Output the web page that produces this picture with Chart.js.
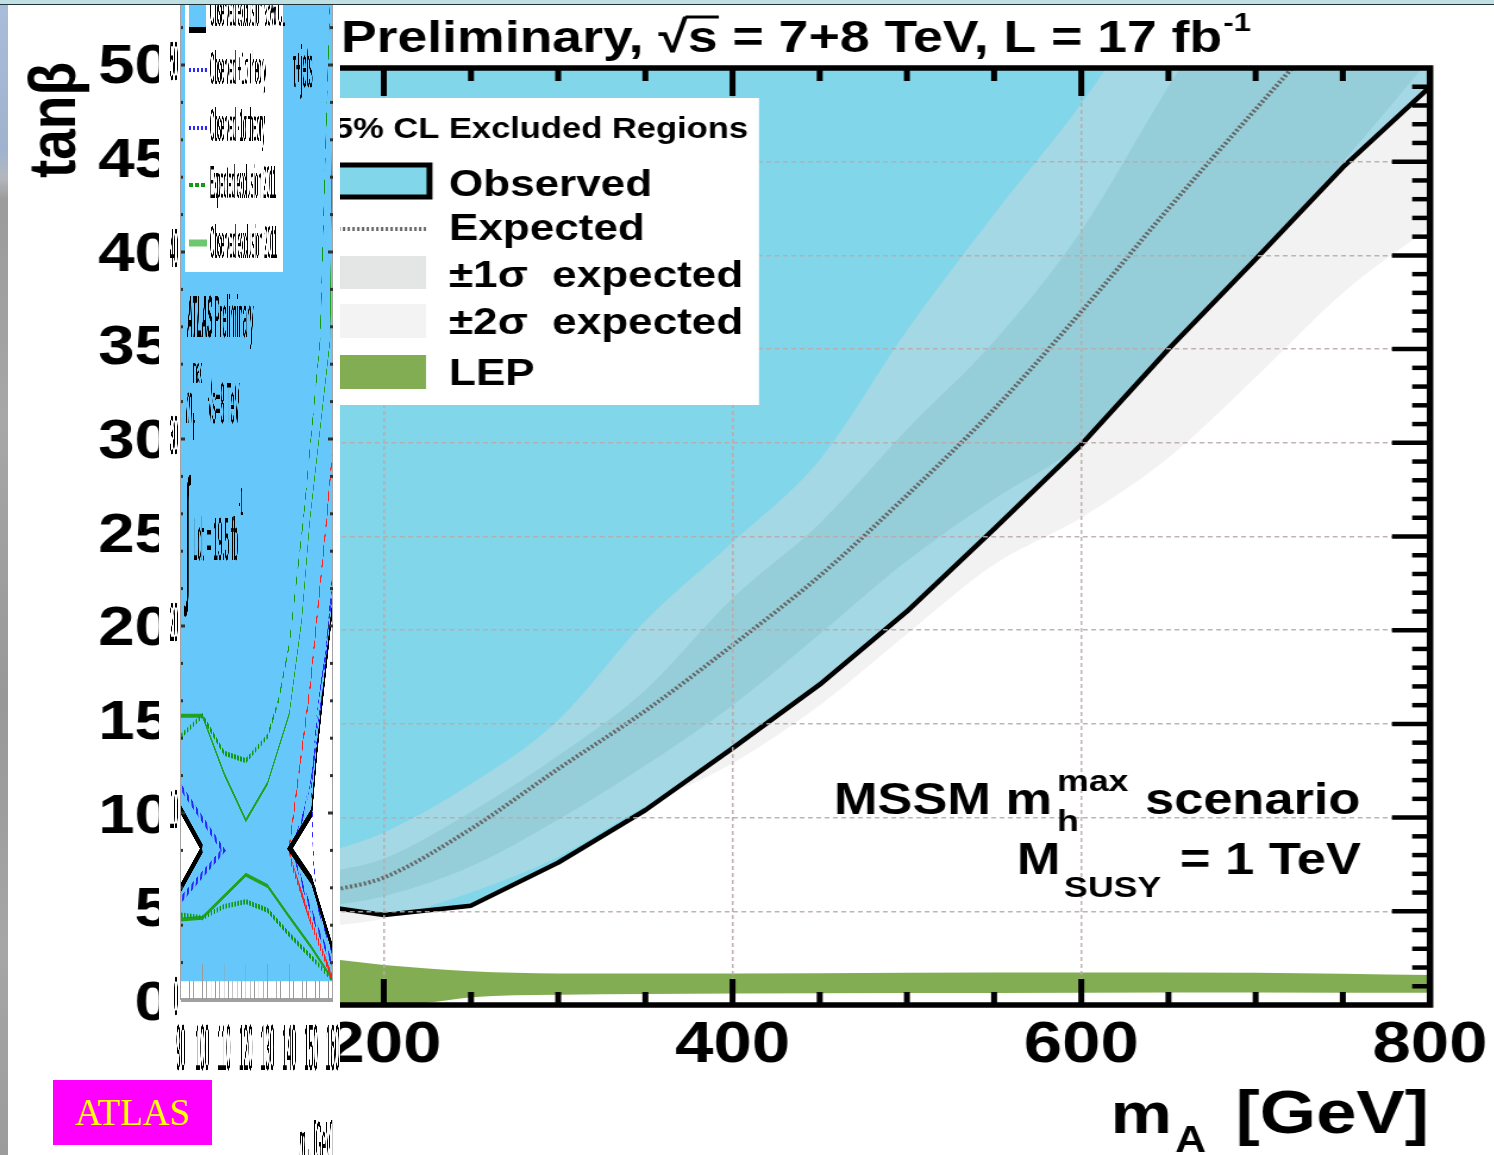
<!DOCTYPE html>
<html lang="en">
<head>
<meta charset="utf-8">
<title>MSSM tanβ exclusion, m_A</title>
<script src="https://cdn.jsdelivr.net/npm/chart.js@4.4.1/dist/chart.umd.min.js"></script>
<style>
  html, body { margin: 0; padding: 0; background: #fff; }
  body { position: relative; width: 1494px; height: 1155px; overflow: hidden; }
  #cms { position: absolute; left: 0; top: 0; width: 1256px; height: 1155px; transform-origin: 0 0; transform: scaleX(1.19); }
  #inset { position: absolute; left: 159px; top: 0; width: 181px; height: 1155px; overflow: hidden; background: #fff; }
  #atlas { position: absolute; left: 0; top: 0; width: 1392px; height: 1155px; transform-origin: 0 0; transform: scaleX(0.13); }
  #edge { position: absolute; left: 0; top: 0; width: 8px; height: 1155px;
          background: linear-gradient(180deg, #a9bcd9 0px, #9fb3cf 150px, #b3b7bc 178px, #9b9b9b 200px, #a7a7a7 420px, #989898 700px, #a6a6a6 950px, #9c9c9c 1155px); }
  #band { position: absolute; left: 0; top: 0; width: 1494px; height: 3.5px; background: #c0e1e4; border-bottom: 1.5px solid #24323a; }
  #tag { position: absolute; left: 53px; top: 1080px; width: 159px; height: 65px; background: #ff00ff; color: #ffff00;
         font: 37px/65px "Liberation Serif", "Times New Roman", serif; text-align: center; }
</style>
</head>
<body>
<canvas id="cms" width="1256" height="1155"></canvas>
<div id="inset"><canvas id="atlas" width="1392" height="1155"></canvas></div>
<div id="edge"></div>
<div id="band"></div>
<div id="tag">ATLAS</div>
<script>
// ---------------- CMS: MSSM neutral Higgs -> tau tau, mh-max, 7+8 TeV ----------------
const mA         = [170, 200, 250, 300, 350, 400, 450, 500, 550, 600, 650, 700, 750, 800];
const observed   = [5.2, 4.8, 5.3, 7.6, 10.4, 13.7, 17.1, 21.0, 25.4, 29.9, 35.0, 39.8, 44.7, 49.0];
const expected   = [6.1, 6.8, 9.4, 12.6, 15.7, 19.2, 22.9, 27.2, 31.8, 37.0, 42.5, 47.8, 53.0, 58.0];
const sigma1Up   = [7.1, 7.8, 10.3, 13.3, 16.8, 21.7, 25.7, 30.7, 35.4, 41.3, 49.0, 56.0, 62.0, 68.0];
const sigma1Down = [5.3, 5.8, 7.4, 9.9, 12.8, 16.0, 19.8, 23.7, 27.0, 30.0, 35.1, 39.9, 45.0, 50.5];
const sigma2Up   = [8.2, 9.2, 11.8, 15.2, 20.5, 24.7, 29.1, 36.0, 42.2, 48.1, 55.0, 62.0, 69.0, 76.0];
const sigma2Down = [4.2, 4.6, 6.0, 7.9, 10.6, 12.9, 16.0, 19.8, 23.5, 26.0, 29.2, 33.5, 38.0, 41.5];

const lepMass  = [170, 200, 225, 250, 300, 400, 500, 600, 700, 800];
const lepUpper = [2.45, 2.13, 1.95, 1.8, 1.68, 1.68, 1.72, 1.74, 1.72, 1.6];
const lepLower = [0, 0, 0.12, 0.42, 0.55, 0.62, 0.64, 0.66, 0.67, 0.65];

const massTicks = [200, 400, 600, 800];
const tanbTicks = [0, 5, 10, 15, 20, 25, 30, 35, 40, 45, 50];

// ---------------- ATLAS: charged Higgs -> tau nu, mh-max, 8 TeV ----------------
const hpTicks     = [90, 100, 110, 120, 130, 140, 150, 160];
const hpTanbTicks = [0, 10, 20, 30, 40, 50];

const holeLeftMass    = [90, 100];
const holeLeftTop     = [10.2, 8.1];
const holeLeftBottom  = [6.0, 8.1];
const holeRightMass   = [140.3, 150.3, 152.6, 160];
const holeRightTop    = [8.1, 10.0, 13.2, 21.2];
const holeRightBottom = [8.1, 6.4, 5.5, 2.7];

const thLeftMass   = [90, 109.6, 90];
const thLeftTanb   = [11.4, 8.0, 5.35];
const thRightAMass = [160, 155.8, 151.0, 146.8, 141.4, 146.5, 153.0, 160];
const thRightATanb = [22.8, 17.0, 12.5, 10.0, 8.1, 6.0, 3.8, 1.9];
const thRightBMass = [160, 152.6, 150.3, 151.0, 152.6, 160];
const thRightBTanb = [21.75, 15.0, 11.4, 7.85, 5.2, 2.5];

const expMass = [160, 157.2, 149.6, 142.6, 139.9, 141.1, 149.6, 160];
const expTanb = [29.5, 25.7, 16.75, 10.5, 8.1, 7.3, 4.3, 1.1];

const exp2011UpMass  = [90, 100, 110, 120, 130, 135, 140, 146.5, 154.2, 157.2, 158.8];
const exp2011UpTanb  = [14.1, 15.2, 13.2, 12.8, 14.1, 16.0, 19.0, 25.7, 35.3, 47.6, 53.5];
const exp2011LoMass  = [90, 100, 110, 120, 130, 140, 150, 160];
const exp2011LoTanb  = [4.55, 4.4, 5.0, 5.26, 4.8, 3.5, 2.3, 1.07];
const obs2011UpMass  = [90, 100, 110, 120, 130, 140, 145.7, 149.5, 158.8, 160];
const obs2011UpTanb  = [15.2, 15.2, 12.1, 9.6, 11.6, 15.3, 20.3, 25.7, 35.3, 50.0];
const obs2011LoMass  = [90, 100, 120, 130, 140, 150, 160];
const obs2011LoTanb  = [4.3, 4.4, 6.7, 6.1, 4.45, 2.85, 1.07];

// ---------------- helpers ----------------
const FONT = '"Liberation Sans", Arial, Helvetica, sans-serif';
const S  = 1.19;                 // horizontal stretch of the CMS canvas
const SX = 0.13;                 // horizontal squeeze of the ATLAS canvas
const cx = p => p / S;           // page x -> CMS canvas x
const ax = p => (p - 159) / SX;  // page x -> ATLAS canvas x
const pts = (xs, ys) => xs.map((x, i) => ({ x, y: ys[i] }));
const outline = (xs, top, bottom) => pts(xs, top).reverse().concat(pts(xs, bottom));
function seg(ctx, x1, y1, x2, y2) { ctx.beginPath(); ctx.moveTo(x1, y1); ctx.lineTo(x2, y2); ctx.stroke(); }

const obsBlue  = '#82d6ea';
const lepGreen = '#82ad52';
const gridCol  = 'rgba(185,170,170,0.9)';
const edge = { borderColor: 'rgba(0,0,0,0)', borderWidth: 0, fill: false };
const smooth = { cubicInterpolationMode: 'monotone' };

// ---------------- CMS decorations: frame, ticks, legend, labels ----------------
const cmsDecor = {
  id: 'cmsDecor',
  afterDraw(chart) {
    const { ctx, chartArea: a } = chart;
    const x = chart.scales.x, y = chart.scales.y;
    ctx.save();
    ctx.strokeStyle = '#000';
    ctx.lineCap = 'butt';
    ctx.lineWidth = 5;
    for (let v = 100; v < 800; v += 50) {
      const px = x.getPixelForValue(v);
      const major = v % 200 === 0;
      seg(ctx, px, a.bottom, px, a.bottom - (major ? 26 : 13));
      seg(ctx, px, a.top, px, a.top + (major ? 28 : 13));
    }
    ctx.lineWidth = 4.5;
    for (let v = 1; v < 50; v++) {
      const py = y.getPixelForValue(v);
      seg(ctx, a.right, py, a.right - (v % 5 === 0 ? 32 : 15), py);
    }
    ctx.lineWidth = 5.5;
    ctx.strokeRect(a.left, a.top, a.right - a.left, a.bottom - a.top);

    // legend
    ctx.fillStyle = '#fff';
    ctx.fillRect(cx(200), 98, cx(759) - cx(200), 307);
    ctx.fillStyle = '#000';
    ctx.textBaseline = 'alphabetic';
    ctx.textAlign = 'right';
    ctx.font = `bold 29px ${FONT}`;
    ctx.fillText('95% CL Excluded Regions', cx(748), 138);
    const sx0 = cx(300), sx1 = cx(426);
    ctx.fillStyle = obsBlue;
    ctx.fillRect(sx0, 165, cx(429.5) - sx0, 32);
    ctx.lineWidth = 5; ctx.strokeStyle = '#000';
    ctx.strokeRect(sx0, 165, cx(429.5) - sx0, 32);
    ctx.strokeStyle = '#666'; ctx.lineWidth = 4; ctx.setLineDash([2, 2]);
    seg(ctx, sx0, 229, sx1, 229);
    ctx.setLineDash([]);
    ctx.fillStyle = '#e4e6e6'; ctx.fillRect(sx0, 256, sx1 - sx0, 33);
    ctx.fillStyle = '#f2f3f2'; ctx.fillRect(sx0, 304, sx1 - sx0, 34);
    ctx.fillStyle = lepGreen;  ctx.fillRect(sx0, 355, sx1 - sx0, 34);
    ctx.fillStyle = '#000'; ctx.textAlign = 'left';
    ctx.font = `bold 37px ${FONT}`;
    const lx = cx(449);
    ctx.fillText('Observed', lx, 196);
    ctx.fillText('Expected', lx, 240);
    ctx.fillText('±1σ  expected', lx, 287);
    ctx.fillText('±2σ  expected', lx, 334);
    ctx.fillText('LEP', lx, 385);

    // title
    ctx.font = `bold 45px ${FONT}`;
    let tx = cx(341);
    const cmsW = ctx.measureText('CMS ').width;
    ctx.fillText('CMS ', tx - cmsW, 52);
    ctx.fillText('Preliminary, ', tx, 52); tx += ctx.measureText('Preliminary, ').width;
    ctx.fillText('√', tx, 52); tx += ctx.measureText('√').width;
    const sW = ctx.measureText('s').width;
    ctx.fillText('s', tx, 52);
    ctx.lineWidth = 3; ctx.strokeStyle = '#000';
    seg(ctx, tx - 2, 17, tx + sW + 1, 17);
    tx += sW;
    ctx.fillText(' = 7+8 TeV, L = 17 fb', tx, 52); tx += ctx.measureText(' = 7+8 TeV, L = 17 fb').width;
    ctx.font = `bold 26px ${FONT}`;
    ctx.fillText('-1', tx + 1, 31);

    // y-axis title
    ctx.save();
    ctx.translate(cx(75), 62);
    ctx.rotate(-Math.PI / 2);
    ctx.font = `bold 55px ${FONT}`;
    ctx.textAlign = 'right';
    ctx.fillText('tanβ', 0, 0);
    ctx.restore();

    // scenario text
    ctx.font = `bold 44px ${FONT}`; ctx.textAlign = 'right';
    ctx.fillText('MSSM m', cx(1052), 814);
    ctx.textAlign = 'left';
    ctx.font = `bold 30px ${FONT}`;
    ctx.fillText('max', cx(1057), 791);
    ctx.fillText('h', cx(1057), 831);
    ctx.font = `bold 44px ${FONT}`;
    ctx.fillText('scenario', cx(1145), 814);
    ctx.fillText('M', cx(1017), 874);
    ctx.font = `bold 30px ${FONT}`;
    ctx.fillText('SUSY', cx(1064), 897);
    ctx.font = `bold 44px ${FONT}`;
    ctx.fillText('= 1 TeV', cx(1180), 874);

    // x-axis title
    ctx.font = `bold 58px ${FONT}`; ctx.textAlign = 'right';
    ctx.fillText('m', cx(1172), 1133);
    ctx.font = `bold 61px ${FONT}`;
    ctx.fillText('[GeV]', cx(1429), 1133);
    ctx.textAlign = 'left'; ctx.font = `bold 36px ${FONT}`;
    ctx.fillText('A', cx(1175), 1152);
    ctx.restore();
  }
};

new Chart(document.getElementById('cms'), {
  type: 'line',
  data: {
    datasets: [
      { label: 'Observed', data: pts(mA, observed), borderColor: '#000', borderWidth: 4.5, borderJoinStyle: 'round', fill: false, order: 1 },
      { label: 'Expected', data: pts(mA, expected), ...smooth, borderColor: '#666', borderWidth: 4, borderDash: [2, 2], fill: false, order: 2 },
      { label: '+1σ expected', data: pts(mA, sigma1Up), ...smooth, ...edge, fill: 3, backgroundColor: 'rgba(118,183,188,0.30)', order: 5 },
      { label: '-1σ expected', data: pts(mA, sigma1Down), ...smooth, ...edge, order: 5 },
      { label: '+2σ expected', data: pts(mA, sigma2Up), ...smooth, ...edge, fill: 5, backgroundColor: 'rgba(219,220,218,0.38)', order: 6 },
      { label: '-2σ expected', data: pts(mA, sigma2Down), ...smooth, ...edge, order: 6 },
      { label: 'Observed region', data: pts(mA, observed), ...edge, fill: 'end', backgroundColor: obsBlue, order: 8 },
      { label: 'LEP', data: pts(lepMass, lepUpper), ...smooth, ...edge, fill: 8, backgroundColor: lepGreen, order: 4 },
      { label: 'LEP lower', data: pts(lepMass, lepLower), ...smooth, ...edge, order: 4 }
    ]
  },
  options: {
    responsive: false,
    animation: false,
    devicePixelRatio: 1,
    layout: { padding: { left: 0, right: 1256 - cx(1430), top: 68, bottom: 0 } },
    elements: { point: { radius: 0 }, line: { tension: 0 } },
    plugins: { legend: { display: false }, tooltip: { enabled: false } },
    scales: {
      x: {
        type: 'linear', min: 90, max: 800,
        afterBuildTicks: s => { s.ticks = massTicks.map(v => ({ value: v })); },
        afterFit: s => { s.height = 150; s.paddingLeft = 0; s.paddingRight = 0; },
        ticks: { autoSkip: false, maxRotation: 0, minRotation: 0, padding: 6, color: '#000',
                 font: { family: FONT, weight: 'bold', size: 58 } },
        grid: { z: 1, drawTicks: false, lineWidth: 1.5,
                color: c => (c.tick && c.tick.value === 800) ? 'rgba(0,0,0,0)' : gridCol },
        border: { display: false, dash: [4, 3] }
      },
      y: {
        type: 'linear', min: 0, max: 50,
        afterBuildTicks: s => { s.ticks = tanbTicks.map(v => ({ value: v })); },
        afterFit: s => { s.width = cx(192); s.paddingTop = 0; s.paddingBottom = 0; },
        ticks: { padding: cx(192) - cx(171), color: '#000', font: { family: FONT, weight: 'bold', size: 55 } },
        grid: { z: 1, drawTicks: false, lineWidth: 1.5,
                color: c => (c.tick && (c.tick.value === 0 || c.tick.value === 50)) ? 'rgba(0,0,0,0)' : gridCol },
        border: { display: false, dash: [4, 3] }
      }
    }
  },
  plugins: [cmsDecor]
});

// ---------------- ATLAS decorations ----------------
const atlasBlue = '#66c8fa';
const atlasDecor = {
  id: 'atlasDecor',
  afterDraw(chart) {
    const { ctx, chartArea: a } = chart;
    const x = chart.scales.x, y = chart.scales.y;
    ctx.save();
    ctx.lineCap = 'butt';
    ctx.strokeStyle = '#a3a3a3'; ctx.lineWidth = 7;
    seg(ctx, a.left, a.top, a.left, a.bottom);
    seg(ctx, a.right, a.top, a.right, a.bottom);
    ctx.lineWidth = 4; ctx.strokeStyle = '#a0a0a0';
    seg(ctx, a.left, a.bottom, a.right, a.bottom);
    ctx.lineWidth = 5; ctx.strokeStyle = '#9a9a9a';
    for (let v = 92; v < 160; v += 2) {
      const px = x.getPixelForValue(v);
      seg(ctx, px, a.bottom, px, a.bottom - (v % 10 === 0 ? 36 : 19));
    }
    ctx.strokeStyle = '#333'; ctx.lineWidth = 3;
    for (let v = 2; v <= 52; v += 2) {
      const py = y.getPixelForValue(v);
      const len = v % 10 === 0 ? 34 : 20;
      seg(ctx, a.left, py, a.left + len, py);
      seg(ctx, a.right, py, a.right - len, py);
    }

    // legend
    ctx.fillStyle = '#fff';
    ctx.fillRect(ax(185), -10, ax(283) - ax(185), 282);
    ctx.fillStyle = atlasBlue; ctx.fillRect(ax(189), -10, ax(206) - ax(189), 38);
    ctx.fillStyle = '#000'; ctx.fillRect(ax(189), 27, ax(206) - ax(189), 6);
    ctx.setLineDash([16, 14]); ctx.strokeStyle = '#2a2aff'; ctx.lineWidth = 4;
    seg(ctx, ax(189), 70, ax(207), 70);
    seg(ctx, ax(189), 128, ax(207), 128);
    ctx.setLineDash([30, 16]); ctx.strokeStyle = '#139a13';
    seg(ctx, ax(189), 185, ax(207), 185);
    ctx.setLineDash([]); ctx.strokeStyle = '#6fc86f'; ctx.lineWidth = 7;
    seg(ctx, ax(189), 243, ax(207), 243);
    ctx.fillStyle = '#000'; ctx.textAlign = 'left'; ctx.textBaseline = 'alphabetic';
    ctx.font = `46px ${FONT}`;
    const tx = ax(210);
    ctx.fillText('Observed exclusion 95% CL', tx, 26);
    ctx.fillText('Observed +1σ theory', tx, 84);
    ctx.fillText('Observed -1σ theory', tx, 141);
    ctx.fillText('Expected exclusion 2011', tx, 198);
    ctx.fillText('Observed exclusion 2011', tx, 258);

    // labels
    ctx.font = `60px ${FONT}`;
    ctx.fillText('τ+jets', ax(293), 87);
    ctx.font = `italic bold 60px ${FONT}`;
    ctx.fillText('ATLAS', ax(187), 337);
    const wA = ctx.measureText('ATLAS').width;
    ctx.font = `60px ${FONT}`;
    ctx.fillText(' Preliminary', ax(187) + wA, 337);
    ctx.font = `italic 58px ${FONT}`;
    ctx.fillText('m', ax(186), 423);
    ctx.font = `36px ${FONT}`;
    ctx.fillText('max', ax(193), 383);
    ctx.fillText('h', ax(193), 440);
    ctx.font = `58px ${FONT}`;
    ctx.fillText('√s=8 TeV', ax(208), 423);
    ctx.font = `150px ${FONT}`;
    ctx.fillText('∫', ax(185), 585);
    ctx.font = `62px ${FONT}`;
    ctx.fillText('Ldt = 19.5 fb', ax(193), 560);
    const wL = ctx.measureText('Ldt = 19.5 fb').width;
    ctx.font = `38px ${FONT}`;
    ctx.fillText('-1', ax(193) + wL + 4, 515);

    // x-axis title
    ctx.font = `58px ${FONT}`;
    const wG = ctx.measureText(' [GeV]').width;
    ctx.font = `36px ${FONT}`;
    const wH = ctx.measureText('H+').width;
    ctx.font = `italic 58px ${FONT}`;
    const wm = ctx.measureText('m').width;
    const x0 = ax(333) - wG - wH - wm;
    ctx.fillText('m', x0, 1162);
    ctx.font = `36px ${FONT}`;
    ctx.fillText('H+', x0 + wm, 1175);
    ctx.font = `58px ${FONT}`;
    ctx.fillText(' [GeV]', x0 + wm + wH, 1162);
    ctx.restore();
  }
};

new Chart(document.getElementById('atlas'), {
  type: 'line',
  data: {
    datasets: [
      { label: 'Observed exclusion 95% CL', data: pts([90, 160], [1, 1]), ...edge, fill: 'end', backgroundColor: atlasBlue, order: 10 },
      { label: 'allowed (low mass)', data: pts(holeLeftMass, holeLeftTop), ...edge, fill: 2, backgroundColor: '#fff', order: 9 },
      { label: 'allowed (low mass) lower', data: pts(holeLeftMass, holeLeftBottom), ...edge, order: 9 },
      { label: 'allowed (high mass)', data: pts(holeRightMass, holeRightTop), ...edge, fill: 4, backgroundColor: '#fff', order: 9 },
      { label: 'allowed (high mass) lower', data: pts(holeRightMass, holeRightBottom), ...edge, order: 9 },
      { label: 'Expected exclusion 2011', data: pts(exp2011UpMass, exp2011UpTanb), borderColor: '#139a13', borderWidth: 5, borderDash: [14, 9], fill: false, order: 5 },
      { label: 'Expected exclusion 2011 low', data: pts(exp2011LoMass, exp2011LoTanb), borderColor: '#139a13', borderWidth: 5, borderDash: [14, 9], fill: false, order: 5 },
      { label: 'Observed exclusion 2011', data: pts(obs2011UpMass, obs2011UpTanb), borderColor: '#21a321', borderWidth: 4, fill: false, order: 5 },
      { label: 'Observed exclusion 2011 low', data: pts(obs2011LoMass, obs2011LoTanb), borderColor: '#21a321', borderWidth: 4, fill: false, order: 5 },
      { label: 'Observed +1σ theory', data: pts(thLeftMass, thLeftTanb), borderColor: '#2a2aff', borderWidth: 7, borderDash: [5, 5], fill: false, order: 4 },
      { label: 'Observed +1σ theory high', data: pts(thRightAMass, thRightATanb), borderColor: '#2a2aff', borderWidth: 7, borderDash: [5, 5], fill: false, order: 4 },
      { label: 'Observed -1σ theory', data: pts(thRightBMass, thRightBTanb), borderColor: '#2a2aff', borderWidth: 7, borderDash: [5, 5], fill: false, order: 4 },
      { label: 'Expected exclusion', data: pts(expMass, expTanb), borderColor: '#ff2020', borderWidth: 7, borderDash: [11, 6], fill: false, order: 3 },
      { label: 'Observed boundary (low mass)', data: outline(holeLeftMass, holeLeftTop, holeLeftBottom), borderColor: '#000', borderWidth: 9, fill: false, order: 1 },
      { label: 'Observed boundary (high mass)', data: outline(holeRightMass, holeRightTop, holeRightBottom), borderColor: '#000', borderWidth: 9, fill: false, order: 1 }
    ]
  },
  options: {
    responsive: false,
    animation: false,
    devicePixelRatio: 1,
    layout: { padding: { left: 0, right: 1392 - ax(332.7), top: 0, bottom: 0 } },
    elements: { point: { radius: 0 }, line: { tension: 0 } },
    plugins: { legend: { display: false }, tooltip: { enabled: false } },
    scales: {
      x: {
        type: 'linear', min: 90, max: 160,
        afterBuildTicks: s => { s.ticks = hpTicks.map(v => ({ value: v })); },
        afterFit: s => { s.height = 155; s.paddingLeft = 0; s.paddingRight = 0; },
        ticks: { autoSkip: false, maxRotation: 0, minRotation: 0, padding: 14, color: '#000',
                 font: { family: FONT, size: 64 } },
        grid: { display: false, drawTicks: false },
        border: { display: false }
      },
      y: {
        type: 'linear', min: 0, max: 1000 / 18.7,
        afterBuildTicks: s => { s.ticks = hpTanbTicks.map(v => ({ value: v })); },
        afterFit: s => { s.width = ax(180.7); s.paddingTop = 0; s.paddingBottom = 0; },
        ticks: { padding: ax(180.7) - ax(178), color: '#000', font: { family: FONT, size: 56 } },
        grid: { display: false, drawTicks: false },
        border: { display: false }
      }
    }
  },
  plugins: [atlasDecor]
});
</script>
</body>
</html>
